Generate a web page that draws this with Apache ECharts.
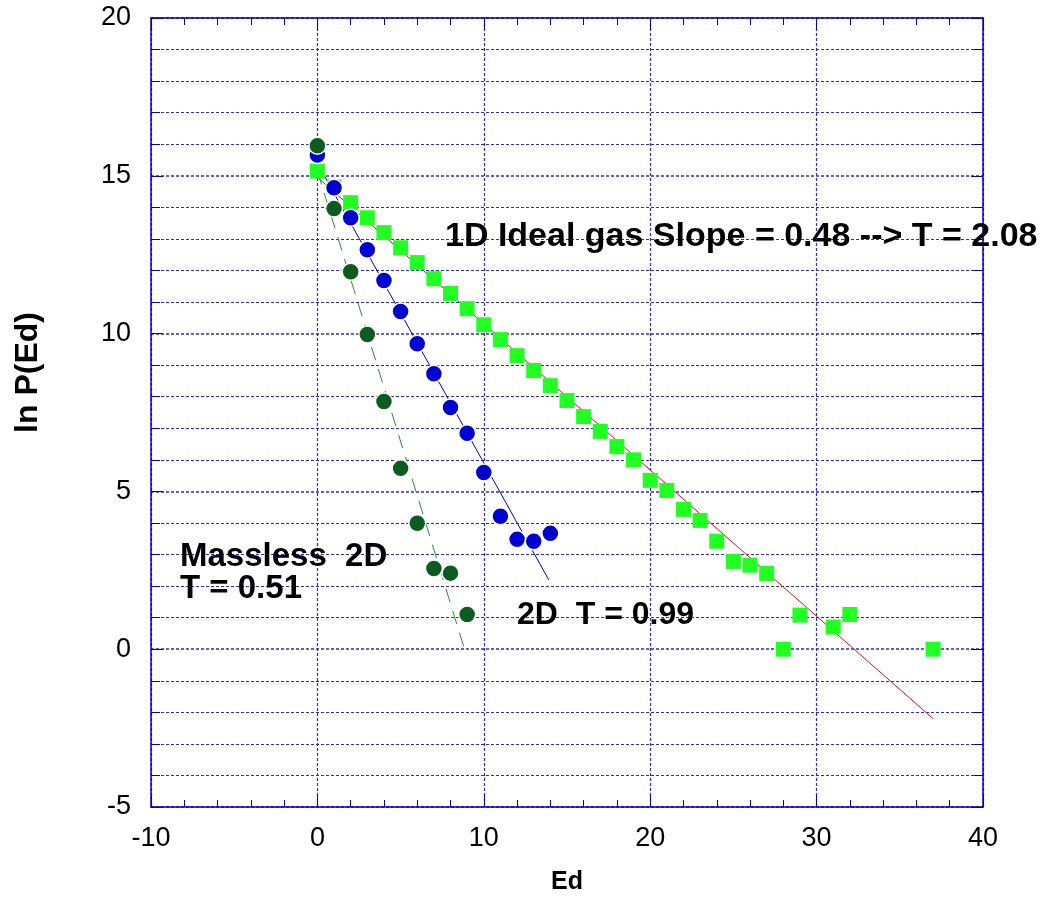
<!DOCTYPE html>
<html>
<head>
<meta charset="utf-8">
<script src="https://cdn.jsdelivr.net/npm/echarts@6/dist/echarts.min.js"></script>
<style>
  html, body { margin: 0; padding: 0; background: #fff; }
  #main { width: 1047px; height: 901px; }
</style>
</head>
<body>
<div id="main"></div>
<script>
// 1D ideal gas (green squares)
const gas1dX = [0, 1, 2, 3, 4, 5, 6, 7, 8, 9, 10, 11, 12, 13, 14, 15, 16, 17, 18, 19, 20,
  21, 22, 23, 24, 25, 26, 27, 28, 29, 31, 32, 37];
const gas1dY = [15.15, 14.65, 14.15, 13.67, 13.2, 12.72, 12.25, 11.74, 11.27, 10.79, 10.28,
  9.81, 9.3, 8.83, 8.35, 7.88, 7.37, 6.9, 6.42, 6.0, 5.35, 5.03, 4.43, 4.08, 3.42, 2.78,
  2.66, 2.4, 0, 1.08, 0.7, 1.1, 0];

// 2D (blue circles)
const ideal2dX = [0, 1, 2, 3, 4, 5, 6, 7, 8, 9, 10, 11, 12, 13, 14];
const ideal2dY = [15.66, 14.62, 13.67, 12.66, 11.68, 10.7, 9.68, 8.73, 7.66, 6.84, 5.6,
  4.21, 3.48, 3.42, 3.67];

// massless 2D (dark green circles)
const masslessX = [0, 1, 2, 3, 4, 5, 6, 7, 8, 9];
const masslessY = [15.95, 13.96, 11.96, 9.97, 7.85, 5.73, 3.99, 2.56, 2.41, 1.1];

// fitted lines
const fit1dX = [0, 37];
const fit1dY = [14.95, -2.2];
const fit2dX = [0, 13.9];
const fit2dY = [15.4, 2.2];
const fitMasslessX = [0, 8.9];
const fitMasslessY = [15.15, -0.1];

const pairs = (xs, ys) => xs.map((x, i) => [x, ys[i]]);

const FONT = '"Liberation Sans", Arial, sans-serif';
const BLUE = '#0000cc';
const GRID = '#2a2ad8';

const xAxisBase = {
  type: 'value', min: -10, max: 40, interval: 10,
  axisLine: { show: true, onZero: false, lineStyle: { color: BLUE, width: 1.5 } },
  axisTick: { show: true, inside: true, length: 12, lineStyle: { color: BLUE } },
  minorTick: { show: true, splitNumber: 5, length: 7, lineStyle: { color: BLUE } }
};
const yAxisBase = {
  type: 'value', min: -5, max: 20, interval: 5,
  axisLine: { show: true, onZero: false, lineStyle: { color: BLUE, width: 1.5 } },
  axisTick: { show: true, inside: true, length: 12, lineStyle: { color: BLUE } },
  minorTick: { show: true, splitNumber: 5, length: 9, lineStyle: { color: BLUE } }
};

const option = {
  backgroundColor: '#fff',
  animation: false,
  grid: { left: 151, right: 64, top: 18, bottom: 94, containLabel: false, outerBoundsMode: 'none' },
  xAxis: [
    Object.assign({}, xAxisBase, {
      position: 'bottom',
      name: 'Ed', nameLocation: 'middle', nameGap: 63,
      nameTextStyle: { fontFamily: FONT, fontWeight: 'bold', fontSize: 25, color: '#000' },
      axisLabel: { fontFamily: FONT, fontSize: 27, color: '#000', margin: 18 },
      splitLine: { show: true, lineStyle: { color: GRID, type: [3, 2], width: 1.2 } }
    }),
    Object.assign({}, xAxisBase, {
      position: 'top',
      axisLabel: { show: false },
      splitLine: { show: false }
    })
  ],
  yAxis: [
    Object.assign({}, yAxisBase, {
      position: 'left',
      name: 'ln P(Ed)', nameLocation: 'middle', nameGap: 107, nameRotate: 90,
      nameTextStyle: { fontFamily: FONT, fontWeight: 'bold', fontSize: 32, color: '#000', padding: [0, 0, 0, 80] },
      axisLabel: { fontFamily: FONT, fontSize: 27, color: '#000', margin: 20 },
      splitLine: { show: true, lineStyle: { color: GRID, type: [3, 2], width: 1.6 } },
      minorSplitLine: { show: true, lineStyle: { color: GRID, type: [3, 2], width: 1 } }
    }),
    Object.assign({}, yAxisBase, {
      position: 'right',
      axisLabel: { show: false },
      splitLine: { show: false }
    })
  ],
  series: [
    {
      type: 'line', data: pairs(fit1dX, fit1dY), showSymbol: false, symbol: 'none',
      lineStyle: { color: '#e01010', width: 1 }, z: 1
    },
    {
      type: 'line', data: pairs(fit2dX, fit2dY), showSymbol: false, symbol: 'none',
      lineStyle: { color: '#0000cc', width: 1 }, z: 1
    },
    {
      type: 'line', data: pairs(fitMasslessX, fitMasslessY), showSymbol: false, symbol: 'none',
      lineStyle: { color: '#2f8a3a', width: 1, type: [14, 9] }, z: 1
    },
    {
      type: 'scatter', data: pairs(gas1dX, gas1dY), symbol: 'rect', symbolSize: 15,
      itemStyle: { color: '#22ff22', opacity: 1 }, z: 3
    },
    {
      type: 'scatter', data: pairs(ideal2dX, ideal2dY), symbol: 'circle', symbolSize: 17,
      itemStyle: { color: '#0000d0', borderColor: '#fff', borderWidth: 1.5, opacity: 1 }, z: 4
    },
    {
      type: 'scatter', data: pairs(masslessX, masslessY), symbol: 'circle', symbolSize: 17,
      itemStyle: { color: '#0b5c1e', borderColor: '#fff', borderWidth: 1.5, opacity: 1 }, z: 5
    }
  ],
  graphic: [
    { type: 'text', x: 445, y: 237, z: 10,
      style: { text: '1D Ideal gas Slope = 0.48 --> T = 2.08', font: 'bold 34px ' + FONT, fill: '#000', verticalAlign: 'middle' } },
    { type: 'text', x: 180, y: 557, z: 10,
      style: { text: 'Massless  2D', font: 'bold 33px ' + FONT, fill: '#000', verticalAlign: 'middle' } },
    { type: 'text', x: 180, y: 589, z: 10,
      style: { text: 'T = 0.51', font: 'bold 33px ' + FONT, fill: '#000', verticalAlign: 'middle' } },
    { type: 'text', x: 517, y: 615, z: 10,
      style: { text: '2D  T = 0.99', font: 'bold 32px ' + FONT, fill: '#000', verticalAlign: 'middle' } }
  ]
};

const chart = echarts.init(document.getElementById('main'), null, { renderer: 'canvas' });
chart.setOption(option);
</script>
</body>
</html>
